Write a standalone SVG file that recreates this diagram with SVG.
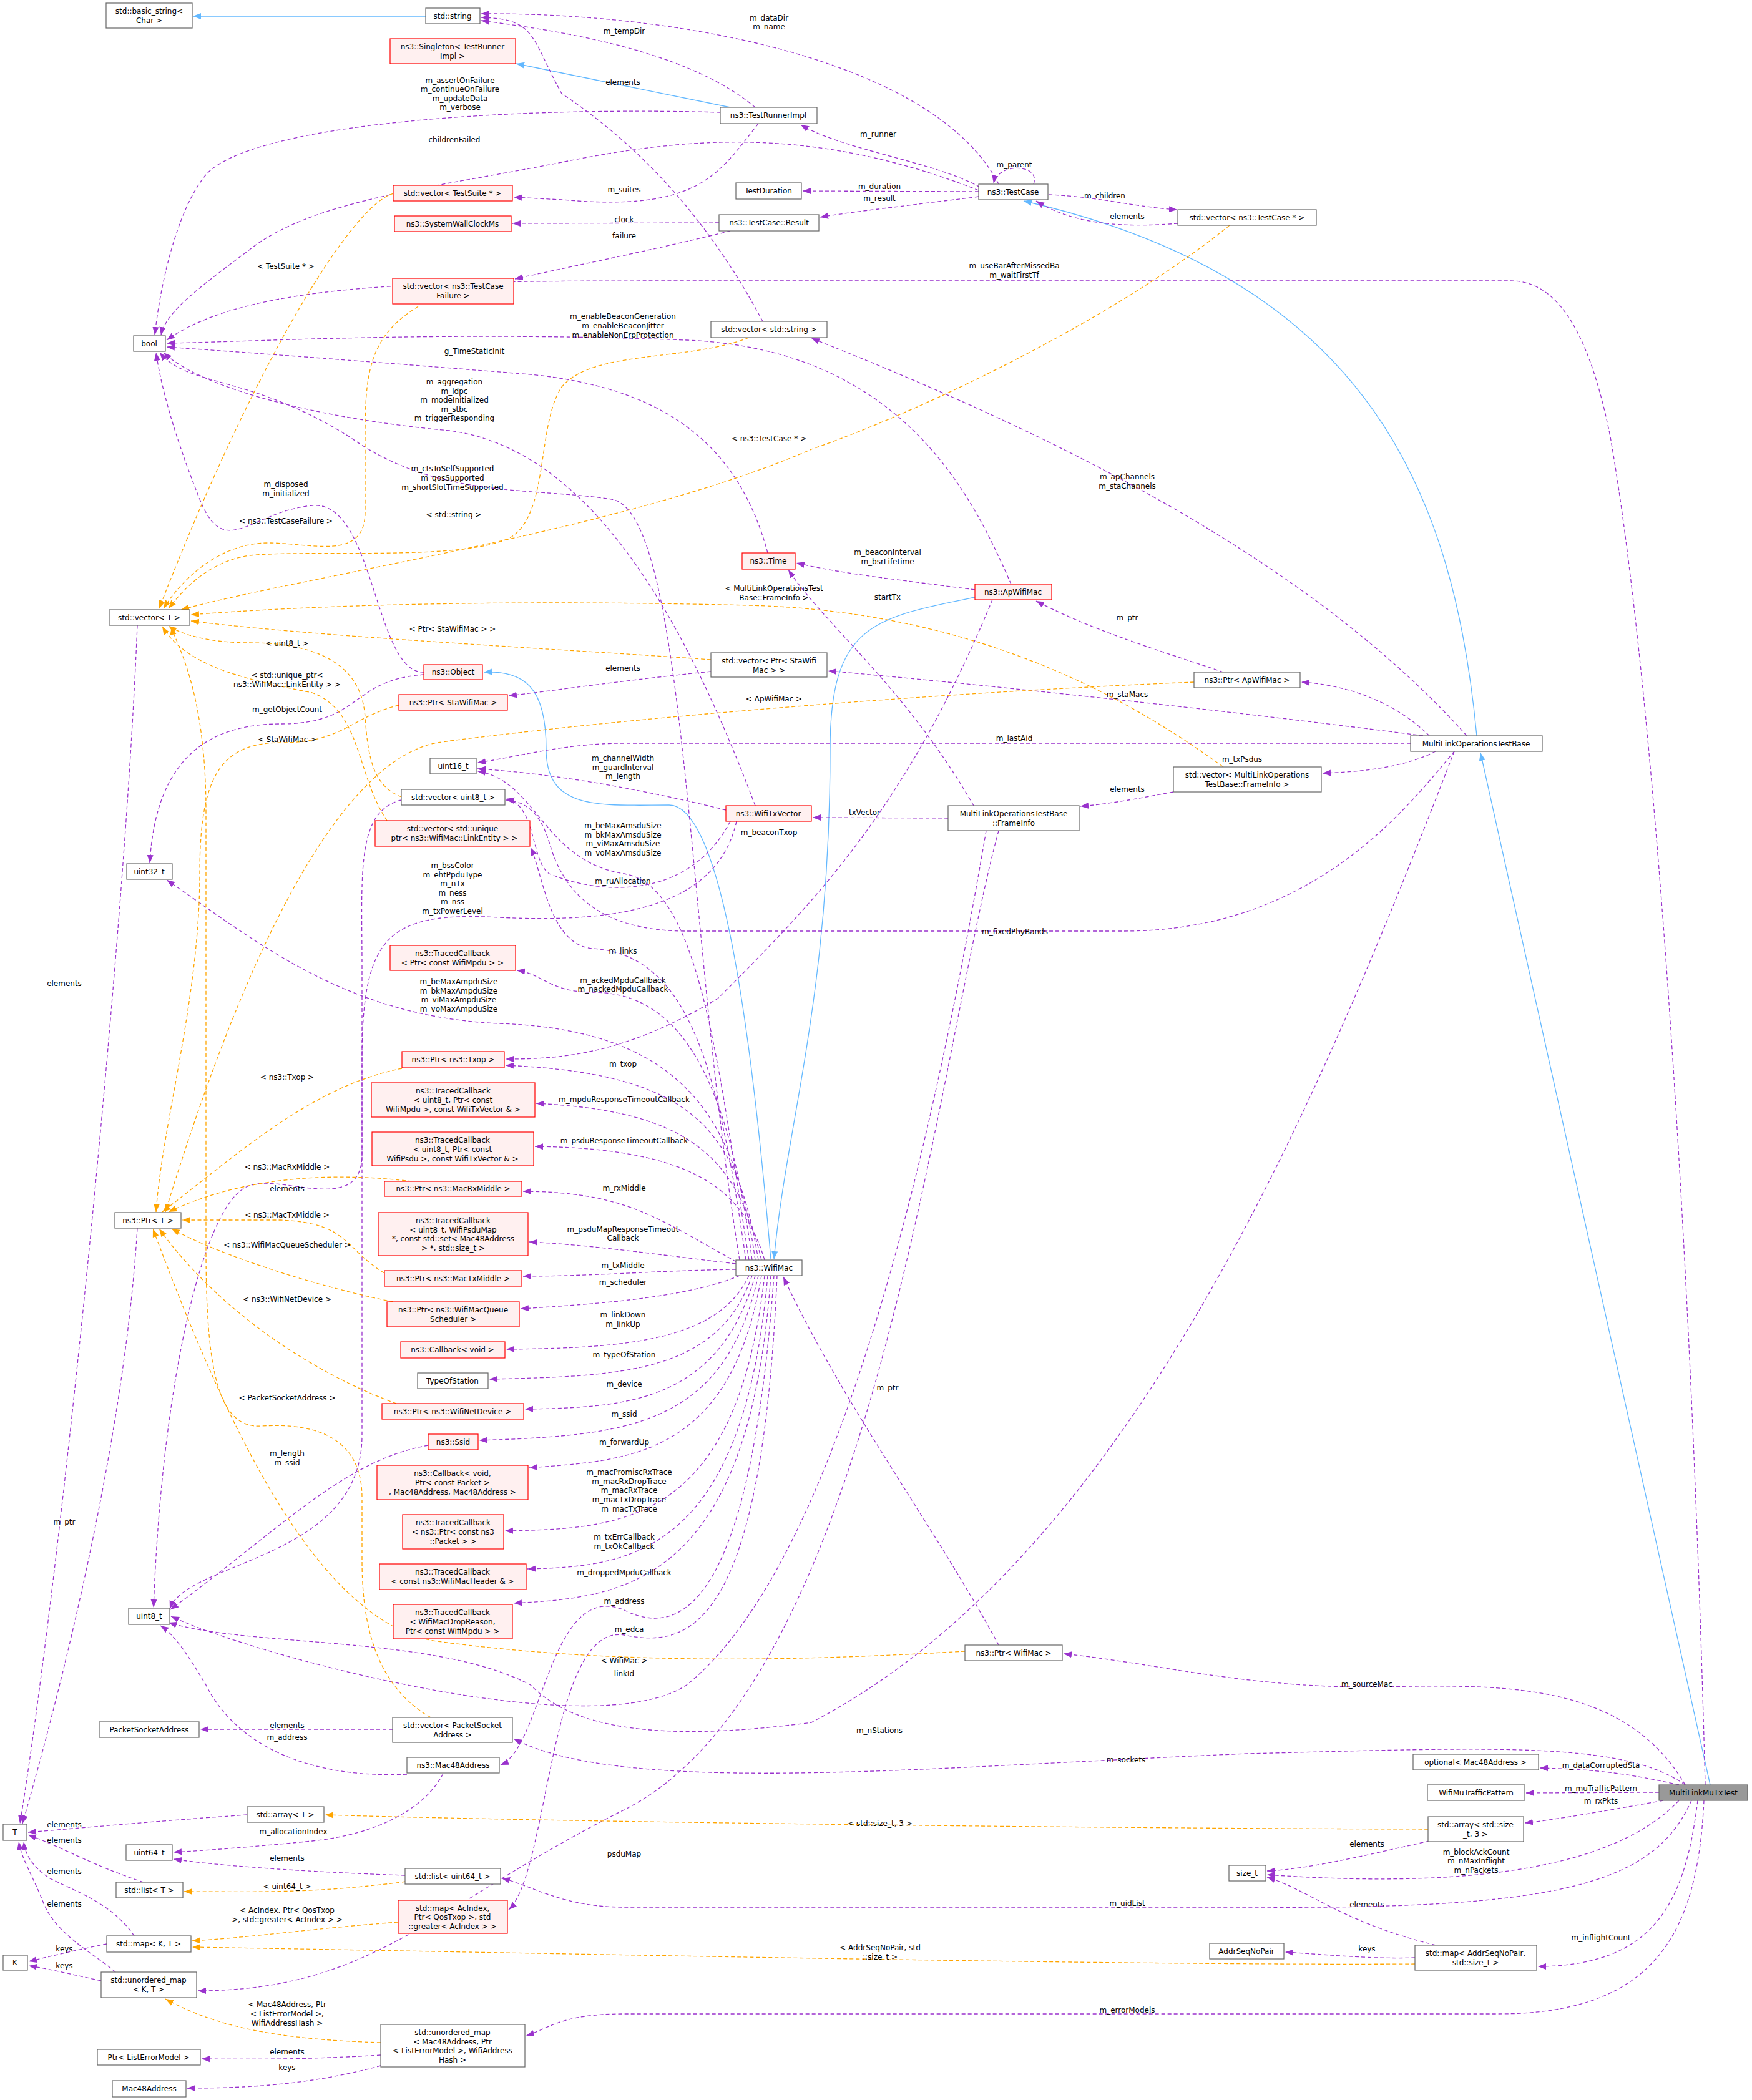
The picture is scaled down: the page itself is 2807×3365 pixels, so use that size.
<svg xmlns="http://www.w3.org/2000/svg" width="2807" height="3365" viewBox="0 0 2807 3365">
<style>
text{font-family:"DejaVu Sans","Liberation Sans",sans-serif;font-size:12px;fill:#000;text-anchor:middle}
.n{fill:#fff;stroke:#666;stroke-width:1.2}
.r{fill:#fff0f0;stroke:#f00;stroke-width:1.2}
.g{fill:#999;stroke:#666;stroke-width:1.2}
.p{fill:none;stroke:#9a32cd;stroke-width:1.3;stroke-dasharray:6,4;marker-end:url(#ap)}
.o{fill:none;stroke:#ffa500;stroke-width:1.3;stroke-dasharray:6,4;marker-end:url(#ao)}
.b{fill:none;stroke:#63b8ff;stroke-width:1.3;marker-end:url(#ab)}
</style>
<defs>
<marker id="ap" markerUnits="userSpaceOnUse" markerWidth="14" markerHeight="12" refX="13" refY="6" orient="auto"><path d="M0,1 L13,6 L0,11 z" fill="#9a32cd"/></marker>
<marker id="ao" markerUnits="userSpaceOnUse" markerWidth="14" markerHeight="12" refX="13" refY="6" orient="auto"><path d="M0,1 L13,6 L0,11 z" fill="#ffa500"/></marker>
<marker id="ab" markerUnits="userSpaceOnUse" markerWidth="14" markerHeight="12" refX="13" refY="6" orient="auto"><path d="M0,1 L13,6 L0,11 z" fill="#63b8ff"/></marker>
</defs>
<rect width="2807" height="3365" fill="#fff"/>
<g id="connectors">
<path class="b" d="M682,26 L309,26"/>
<path class="b" d="M1170,172 L827,102"/>
<path class="b" d="M2366,1179 C2330,800 2200,450 1640,322"/>
<path class="b" d="M2740,2860 L2372,1206"/>
<path class="b" d="M1562,957 C1400,990 1330,1000 1330,1200 C1330,1600 1260,1800 1240,2018"/>
<path class="b" d="M1235,2018 C1200,1600 1150,1290 1072,1290 C960,1290 875,1300 875,1200 C875,1100 840,1075 775,1077"/>
<path class="p" d="M1600,295 C1500,100 1100,20 771,22"/><text x="1232" y="33">m_dataDir</text><text x="1232" y="47">m_name</text>
<path class="p" d="M1210,172 C1100,80 900,50 771,33"/><text x="1000" y="54">m_tempDir</text>
<path class="p" d="M1154,180 C800,170 400,200 330,280 C280,340 255,470 248,537"/><text x="737" y="133">m_assertOnFailure</text><text x="737" y="147">m_continueOnFailure</text><text x="737" y="162">m_updateData</text><text x="737" y="176">m_verbose</text>
<path class="p" d="M1568,305 C1300,200 1100,220 900,260 C700,300 500,320 400,400 C320,460 265,500 258,537"/><text x="728" y="228">childrenFailed</text>
<path class="p" d="M1215,198 C1150,280 1120,340 900,320 L823,316"/><text x="1000" y="308">m_suites</text>
<path class="p" d="M1570,300 C1500,260 1350,240 1283,200"/><text x="1407" y="219">m_runner</text>
<path class="p" d="M1568,307 L1286,306"/><text x="1409" y="303">m_duration</text>
<path class="p" d="M1568,315 C1450,330 1360,340 1314,348"/><text x="1409" y="322">m_result</text>
<path class="p" d="M1656,295 C1668,262 1598,260 1592,294"/><text x="1625" y="268">m_parent</text>
<path class="p" d="M1680,312 C1760,315 1820,332 1886,336"/><text x="1770" y="318">m_children</text>
<path class="p" d="M1887,358 C1800,365 1720,360 1660,322"/><text x="1806" y="351">elements</text>
<path class="p" d="M1152,357 L821,358"/><text x="1000" y="356">clock</text>
<path class="p" d="M1170,370 C1050,400 900,430 825,447"/><text x="1000" y="382">failure</text>
<path class="p" d="M1222,515 C1150,380 1050,250 900,150 C850,60 860,30 771,28"/><text x="998" y="136">elements</text>
<path class="p" d="M2732,2860 C2710,2000 2650,1100 2580,700 C2540,500 2480,450 2420,450 L1100,450 C700,450 400,450 267,545"/><text x="1625" y="430">m_useBarAfterMissedBa</text><text x="1625" y="445">m_waitFirstTf</text>
<path class="p" d="M1620,936 C1560,800 1450,560 1100,545 C700,530 400,548 267,550"/><text x="998" y="511">m_enableBeaconGeneration</text><text x="998" y="526">m_enableBeaconJitter</text><text x="998" y="541">m_enableNonErpProtection</text>
<path class="p" d="M1230,886 C1180,700 1050,620 850,600 C600,580 400,565 267,556"/><text x="760" y="567">g_TimeStaticInit</text>
<path class="p" d="M1210,1291 C1100,1000 950,720 720,690 C500,670 320,620 262,565"/><text x="728" y="616">m_aggregation</text><text x="728" y="631">m_ldpc</text><text x="728" y="645">m_modeInitialized</text><text x="728" y="660">m_stbc</text><text x="728" y="674">m_triggerResponding</text>
<path class="p" d="M1185,2019 C1100,1500 1100,820 980,800 C850,780 700,800 560,700 C400,600 300,620 256,565"/><text x="725" y="755">m_ctsToSelfSupported</text><text x="725" y="770">m_qosSupported</text><text x="725" y="785">m_shortSlotTimeSupported</text>
<path class="p" d="M679,1077 C600,1080 600,800 500,810 C400,820 360,900 320,800 C280,700 258,620 250,565"/><text x="458" y="780">m_disposed</text><text x="458" y="795">m_initialized</text>
<path class="p" d="M2350,1179 C2100,900 1700,700 1300,542"/><text x="1806" y="768">m_apChannels</text><text x="1806" y="783">m_staChannels</text>
<path class="p" d="M1562,945 C1450,930 1350,920 1276,902"/><text x="1422" y="889">m_beaconInterval</text><text x="1422" y="904">m_bsrLifetime</text>
<path class="p" d="M1560,1291 C1450,1100 1320,1000 1263,913"/><text x="1422" y="961">startTx</text>
<path class="p" d="M1960,1077 C1850,1040 1750,1010 1660,963"/><text x="1806" y="994">m_ptr</text>
<path class="p" d="M2290,1179 C2230,1120 2150,1097 2085,1093"/><text x="1990" y="1098">m_apMac</text>
<path class="p" d="M2280,1179 C1900,1130 1500,1090 1327,1075"/><text x="1806" y="1117">m_staMacs</text>
<path class="p" d="M2260,1191 L1000,1191 C900,1191 820,1215 765,1222"/><text x="1625" y="1187">m_lastAid</text>
<path class="p" d="M2300,1204 C2250,1230 2180,1237 2119,1239"/><text x="1990" y="1221">m_txPsdus</text>
<path class="p" d="M1880,1269 C1820,1280 1780,1288 1731,1292"/><text x="1806" y="1269">elements</text>
<path class="p" d="M1519,1311 L1302,1310"/><text x="1385" y="1306">txVector</text>
<path class="p" d="M1600,1331 C1500,1700 1400,2700 1000,2900 C700,3050 600,3190 317,3190"/><text x="1000" y="2975">psduMap</text>
<path class="p" d="M2330,1204 C2250,1300 2100,1492 1800,1492 L1100,1492 C950,1492 900,1420 880,1350 C865,1300 840,1284 811,1282"/><text x="1626" y="1497">m_fixedPhyBands</text>
<path class="p" d="M1163,1298 C1050,1270 900,1240 765,1232"/><text x="998" y="1219">m_channelWidth</text><text x="998" y="1234">m_guardInterval</text><text x="998" y="1248">m_length</text>
<path class="p" d="M1200,2019 C1150,1700 1120,1420 1000,1400 C870,1380 860,1250 765,1236"/><text x="998" y="1327">m_beMaxAmsduSize</text><text x="998" y="1342">m_bkMaxAmsduSize</text><text x="998" y="1356">m_viMaxAmsduSize</text><text x="998" y="1371">m_voMaxAmsduSize</text>
<path class="p" d="M1170,1316 C1100,1450 950,1430 880,1400 C850,1380 860,1290 811,1280"/><text x="998" y="1416">m_ruAllocation</text>
<path class="p" d="M1180,1316 C1150,1450 1000,1480 800,1470 C620,1460 580,1500 580,1700 L580,2300 C580,2500 300,2500 272,2578"/><text x="725" y="1391">m_bssColor</text><text x="725" y="1406">m_ehtPpduType</text><text x="725" y="1420">m_nTx</text><text x="725" y="1435">m_ness</text><text x="725" y="1449">m_nss</text><text x="725" y="1464">m_txPowerLevel</text>
<path class="p" d="M1195,2019 C1150,1700 1100,1530 950,1520 C880,1515 870,1400 850,1358"/><text x="998" y="1528">m_links</text>
<path class="p" d="M1205,2019 C1170,1750 1100,1590 950,1590 C880,1590 870,1560 828,1555"/><text x="998" y="1575">m_ackedMpduCallback</text><text x="998" y="1589">m_nackedMpduCallback</text>
<path class="p" d="M1210,2019 C1180,1800 1100,1650 800,1640 C550,1630 400,1500 267,1410"/><text x="735" y="1577">m_beMaxAmpduSize</text><text x="735" y="1592">m_bkMaxAmpduSize</text><text x="735" y="1606">m_viMaxAmpduSize</text><text x="735" y="1621">m_voMaxAmpduSize</text>
<path class="p" d="M1215,2019 C1180,1800 1100,1720 810,1707"/><text x="998" y="1709">m_txop</text>
<path class="p" d="M1590,961 C1450,1300 1300,1450 1150,1600 C1000,1690 900,1697 810,1697"/><text x="1232" y="1338">m_beaconTxop</text>
<path class="p" d="M1220,2019 C1180,1850 1100,1780 859,1768"/><text x="1000" y="1766">m_mpduResponseTimeoutCallback</text>
<path class="p" d="M1225,2019 C1190,1900 1100,1840 857,1837"/><text x="1000" y="1832">m_psduResponseTimeoutCallback</text>
<path class="p" d="M1180,2022 C1050,1950 1000,1910 838,1909"/><text x="1000" y="1908">m_rxMiddle</text>
<path class="p" d="M1179,2025 C1050,2010 950,1995 848,1990"/><text x="998" y="1974">m_psduMapResponseTimeout</text><text x="998" y="1988">Callback</text>
<path class="p" d="M1179,2034 C1050,2036 950,2045 838,2045"/><text x="998" y="2032">m_txMiddle</text>
<path class="p" d="M1185,2044 C1100,2080 950,2090 834,2097"/><text x="998" y="2059">m_scheduler</text>
<path class="p" d="M1200,2044 C1150,2150 1000,2160 811,2162"/><text x="998" y="2111">m_linkDown</text><text x="998" y="2126">m_linkUp</text>
<path class="p" d="M1205,2044 C1150,2200 1000,2205 784,2210"/><text x="1000" y="2175">m_typeOfStation</text>
<path class="p" d="M1210,2044 C1150,2250 1000,2255 841,2258"/><text x="1000" y="2222">m_device</text>
<path class="p" d="M1215,2044 C1160,2290 1000,2300 768,2308"/><text x="1000" y="2270">m_ssid</text>
<path class="p" d="M1220,2044 C1170,2340 1000,2340 848,2352"/><text x="1000" y="2315">m_forwardUp</text>
<path class="p" d="M1225,2044 C1180,2440 1000,2450 809,2453"/><text x="1008" y="2363">m_macPromiscRxTrace</text><text x="1008" y="2378">m_macRxDropTrace</text><text x="1008" y="2392">m_macRxTrace</text><text x="1008" y="2407">m_macTxDropTrace</text><text x="1008" y="2422">m_macTxTrace</text>
<path class="p" d="M1230,2044 C1190,2500 1000,2510 845,2514"/><text x="1000" y="2467">m_txErrCallback</text><text x="1000" y="2482">m_txOkCallback</text>
<path class="p" d="M1235,2044 C1200,2540 1000,2560 823,2569"/><text x="1000" y="2524">m_droppedMpduCallback</text>
<path class="p" d="M1240,2044 C1200,2600 1080,2620 1000,2580 C880,2530 870,2800 802,2828"/><text x="1000" y="2570">m_address</text>
<path class="p" d="M1245,2044 C1220,2620 1100,2640 1000,2620 C880,2600 880,3000 815,3060"/><text x="1008" y="2615">m_edca</text>
<path class="p" d="M1580,1331 C1500,1800 1350,2500 1100,2700 C950,2800 400,2650 274,2590"/><text x="1000" y="2686">linkId</text>
<path class="p" d="M2330,1204 C2100,1800 1800,2500 1300,2760 C1000,2800 900,2750 850,2700 C700,2620 400,2640 270,2600"/><text x="1409" y="2777">m_nStations</text>
<path class="p" d="M2700,2860 C2600,2790 2400,2800 2000,2810 C1500,2830 1000,2880 823,2786"/><text x="1804" y="2824">m_sockets</text>
<path class="p" d="M2700,2860 C2600,2690 2400,2700 2200,2703 C2000,2705 1850,2665 1704,2650"/><text x="2190" y="2703">m_sourceMac</text>
<path class="p" d="M2690,2860 C2600,2840 2550,2835 2467,2833"/><text x="2565" y="2833">m_dataCorruptedSta</text>
<path class="p" d="M2658,2872 L2445,2873"/><text x="2565" y="2870">m_muTrafficPattern</text>
<path class="p" d="M2665,2885 C2580,2900 2500,2915 2443,2921"/><text x="2565" y="2890">m_rxPkts</text>
<path class="p" d="M2690,2885 C2600,2980 2400,3030 2030,3004"/><text x="2365" y="2972">m_blockAckCount</text><text x="2365" y="2986">m_nMaxInflight</text><text x="2365" y="3001">m_nPackets</text>
<path class="p" d="M2290,2950 C2200,2970 2100,2995 2030,2998"/><text x="2190" y="2959">elements</text>
<path class="p" d="M2300,3117 C2150,3080 2100,3030 2030,3008"/><text x="2190" y="3056">elements</text>
<path class="p" d="M2267,3137 C2200,3140 2100,3130 2059,3128"/><text x="2190" y="3127">keys</text>
<path class="p" d="M2720,2885 C2700,3050 2650,3150 2464,3151"/><text x="2565" y="3109">m_inflightCount</text>
<path class="p" d="M2710,2885 C2650,3020 2500,3060 2000,3056 L1000,3056 C900,3056 850,3020 804,3010"/><text x="1806" y="3054">m_uidList</text>
<path class="p" d="M2730,2885 C2720,3100 2650,3227 2400,3227 L1000,3227 C900,3227 880,3250 843,3262"/><text x="1806" y="3225">m_errorModels</text>
<path class="p" d="M1600,2636 C1500,2450 1350,2250 1255,2046"/><text x="1422" y="2228">m_ptr</text>
<path class="p" d="M220,1002 C200,1500 100,2500 32,2922"/><text x="103" y="1580">elements</text>
<path class="p" d="M220,1968 C200,2300 100,2700 36,2922"/><text x="103" y="2443">m_ptr</text>
<path class="p" d="M396,2908 C250,2918 120,2930 45,2936"/><text x="103" y="2928">elements</text>
<path class="p" d="M230,3016 C150,2990 100,2960 45,2940"/><text x="103" y="2953">elements</text>
<path class="p" d="M215,3102 C180,3050 120,3030 80,3010 C50,2990 40,2970 38,2951"/><text x="103" y="3003">elements</text>
<path class="p" d="M185,3160 C150,3130 90,3100 70,3050 C50,3000 35,2980 30,2951"/><text x="103" y="3055">elements</text>
<path class="p" d="M171,3115 C120,3125 80,3135 46,3143"/><text x="103" y="3127">keys</text>
<path class="p" d="M162,3174 C120,3165 80,3155 46,3150"/><text x="103" y="3154">keys</text>
<path class="p" d="M629,2771 L321,2771"/><text x="460" y="2769">elements</text>
<path class="p" d="M652,2843 C500,2850 380,2800 330,2700 C300,2650 280,2620 257,2605"/><text x="460" y="2788">m_address</text>
<path class="p" d="M686,2316 C550,2340 450,2450 273,2579"/><text x="460" y="2333">m_length</text><text x="460" y="2348">m_ssid</text>
<path class="p" d="M643,1282 C570,1300 580,1400 580,1550 L580,1850 C580,1950 450,1880 400,1900 C330,1920 260,2200 246,2576"/><text x="460" y="1909">elements</text>
<path class="p" d="M679,1081 C560,1090 580,1160 450,1160 C350,1160 250,1200 240,1383"/><text x="460" y="1141">m_getObjectCount</text>
<path class="p" d="M710,2842 C680,2900 600,2940 500,2950 C400,2960 330,2965 278,2968"/><text x="470" y="2939">m_allocationIndex</text>
<path class="p" d="M649,3005 C500,3000 350,2990 278,2979"/><text x="460" y="2982">elements</text>
<path class="p" d="M610,3293 C500,3300 400,3300 323,3299"/><text x="460" y="3292">elements</text>
<path class="p" d="M610,3310 C500,3340 400,3346 300,3346"/><text x="460" y="3317">keys</text>
<path class="p" d="M1139,1076 C1000,1090 900,1105 815,1115"/><text x="998" y="1075">elements</text>
<path class="o" d="M630,310 C560,330 400,600 255,975"/><text x="458" y="431">&lt; TestSuite * &gt;</text>
<path class="o" d="M670,491 C590,540 585,600 585,700 L585,820 C585,900 500,870 430,870 C350,870 290,930 262,975"/><text x="458" y="839">&lt; ns3::TestCaseFailure &gt;</text>
<path class="o" d="M1200,541 C1100,580 950,560 900,620 C860,680 880,820 820,860 C750,900 500,880 400,890 C330,900 290,950 270,975"/><text x="727" y="829">&lt; std::string &gt;</text>
<path class="o" d="M1970,361 C1800,500 1500,650 1300,720 C1000,850 500,920 290,977"/><text x="1232" y="707">&lt; ns3::TestCase * &gt;</text>
<path class="o" d="M1960,1229 C1850,1150 1600,980 1200,970 C800,960 500,970 306,985"/><text x="1240" y="947">&lt; MultiLinkOperationsTest</text><text x="1240" y="962">Base::FrameInfo &gt;</text>
<path class="o" d="M1139,1057 C900,1040 500,1020 306,995"/><text x="725" y="1012">&lt; Ptr&lt; StaWifiMac &gt; &gt;</text>
<path class="o" d="M643,1277 C600,1260 590,1220 585,1150 C580,1060 500,1030 400,1030 C320,1030 280,1010 270,1003"/><text x="460" y="1035">&lt; uint8_t &gt;</text>
<path class="o" d="M620,1315 C570,1240 580,1140 500,1110 C400,1090 300,1070 260,1004"/><text x="460" y="1086">&lt; std::unique_ptr&lt;</text><text x="460" y="1101">ns3::WifiMac::LinkEntity &gt; &gt;</text>
<path class="o" d="M639,1130 C560,1150 550,1190 450,1190 C350,1190 320,1250 320,1400 C320,1600 260,1800 250,1942"/><text x="460" y="1189">&lt; StaWifiMac &gt;</text>
<path class="o" d="M1913,1093 C1500,1110 1000,1150 700,1190 C550,1220 400,1500 265,1942"/><text x="1240" y="1124">&lt; ApWifiMac &gt;</text>
<path class="o" d="M644,1712 C500,1740 380,1850 260,1942"/><text x="460" y="1730">&lt; ns3::Txop &gt;</text>
<path class="o" d="M660,1893 C550,1880 400,1880 270,1942"/><text x="460" y="1874">&lt; ns3::MacRxMiddle &gt;</text>
<path class="o" d="M616,2040 C550,2000 560,1960 450,1955 L292,1955"/><text x="460" y="1951">&lt; ns3::MacTxMiddle &gt;</text>
<path class="o" d="M630,2086 C500,2060 350,2010 275,1969"/><text x="460" y="1999">&lt; ns3::WifiMacQueueScheduler &gt;</text>
<path class="o" d="M635,2249 C500,2200 350,2100 255,1969"/><text x="460" y="2086">&lt; ns3::WifiNetDevice &gt;</text>
<path class="o" d="M1546,2646 C1300,2660 1000,2670 700,2630 C500,2600 350,2250 245,1969"/><text x="1000" y="2665">&lt; WifiMac &gt;</text>
<path class="o" d="M690,2752 C600,2700 580,2600 580,2500 L580,2400 C580,2300 500,2280 420,2285 C350,2290 330,2200 330,2000 L330,1300 C330,1100 280,1030 275,1004"/><text x="460" y="2244">&lt; PacketSocketAddress &gt;</text>
<path class="o" d="M2288,2931 C1800,2930 900,2920 521,2908"/><text x="1410" y="2926">&lt; std::size_t, 3 &gt;</text>
<path class="o" d="M650,3015 C500,3035 400,3031 295,3031"/><text x="460" y="3027">&lt; uint64_t &gt;</text>
<path class="o" d="M638,3080 C500,3090 400,3105 308,3110"/><text x="460" y="3065">&lt; AcIndex, Ptr&lt; QosTxop</text><text x="460" y="3080">&gt;, std::greater&lt; AcIndex &gt; &gt;</text>
<path class="o" d="M2267,3147 C1800,3150 900,3130 308,3120"/><text x="1410" y="3125">&lt; AddrSeqNoPair, std</text><text x="1410" y="3140">::size_t &gt;</text>
<path class="o" d="M610,3273 C450,3268 350,3250 265,3203"/><text x="460" y="3216">&lt; Mac48Address, Ptr</text><text x="460" y="3231">&lt; ListErrorModel &gt;,</text><text x="460" y="3246">WifiAddressHash &gt;</text>
</g>
<g id="basic_string"><rect class="n" x="170" y="5" width="138" height="40"/><text x="239" y="22">std::basic_string&lt;</text><text x="239" y="37">Char &gt;</text></g>
<g id="std_string"><rect class="n" x="682" y="13" width="87" height="25"/><text x="725" y="30">std::string</text></g>
<g id="singleton"><rect class="r" x="625" y="62" width="201" height="40"/><text x="725" y="79">ns3::Singleton&lt; TestRunner</text><text x="725" y="94">Impl &gt;</text></g>
<g id="testrunnerimpl"><rect class="n" x="1154" y="172" width="155" height="26"/><text x="1231" y="189">ns3::TestRunnerImpl</text></g>
<g id="vec_testsuite"><rect class="r" x="630" y="297" width="191" height="25"/><text x="725" y="314">std::vector&lt; TestSuite * &gt;</text></g>
<g id="testduration"><rect class="n" x="1179" y="293" width="105" height="26"/><text x="1231" y="310">TestDuration</text></g>
<g id="syswallclock"><rect class="r" x="632" y="346" width="187" height="25"/><text x="725" y="363">ns3::SystemWallClockMs</text></g>
<g id="testcase_result"><rect class="n" x="1152" y="344" width="160" height="26"/><text x="1232" y="361">ns3::TestCase::Result</text></g>
<g id="vec_testcasefailure"><rect class="r" x="629" y="446" width="194" height="41"/><text x="726" y="463">std::vector&lt; ns3::TestCase</text><text x="726" y="478">Failure &gt;</text></g>
<g id="bool"><rect class="n" x="214" y="538" width="51" height="25"/><text x="239" y="555">bool</text></g>
<g id="vec_string"><rect class="n" x="1139" y="515" width="186" height="26"/><text x="1232" y="532">std::vector&lt; std::string &gt;</text></g>
<g id="time"><rect class="r" x="1189" y="886" width="85" height="26"/><text x="1231" y="903">ns3::Time</text></g>
<g id="vector_t"><rect class="n" x="175" y="977" width="129" height="25"/><text x="239" y="994">std::vector&lt; T &gt;</text></g>
<g id="testcase"><rect class="n" x="1568" y="295" width="111" height="25"/><text x="1623" y="312">ns3::TestCase</text></g>
<g id="vec_testcase"><rect class="n" x="1887" y="336" width="222" height="25"/><text x="1998" y="353">std::vector&lt; ns3::TestCase * &gt;</text></g>
<g id="apwifimac"><rect class="r" x="1562" y="936" width="123" height="25"/><text x="1623" y="953">ns3::ApWifiMac</text></g>
<g id="ptr_apwifimac"><rect class="n" x="1913" y="1077" width="170" height="25"/><text x="1998" y="1094">ns3::Ptr&lt; ApWifiMac &gt;</text></g>
<g id="mlotb"><rect class="n" x="2260" y="1179" width="211" height="25"/><text x="2365" y="1196">MultiLinkOperationsTestBase</text></g>
<g id="vec_frameinfo"><rect class="n" x="1880" y="1229" width="237" height="40"/><text x="1998" y="1246">std::vector&lt; MultiLinkOperations</text><text x="1998" y="1261">TestBase::FrameInfo &gt;</text></g>
<g id="frameinfo"><rect class="n" x="1519" y="1291" width="210" height="40"/><text x="1624" y="1308">MultiLinkOperationsTestBase</text><text x="1624" y="1323">::FrameInfo</text></g>
<g id="object"><rect class="r" x="679" y="1065" width="94" height="24"/><text x="726" y="1081">ns3::Object</text></g>
<g id="vec_ptr_sta"><rect class="n" x="1139" y="1046" width="186" height="39"/><text x="1232" y="1063">std::vector&lt; Ptr&lt; StaWifi</text><text x="1232" y="1078">Mac &gt; &gt;</text></g>
<g id="ptr_sta"><rect class="r" x="639" y="1113" width="174" height="25"/><text x="726" y="1130">ns3::Ptr&lt; StaWifiMac &gt;</text></g>
<g id="uint16"><rect class="n" x="689" y="1215" width="74" height="25"/><text x="726" y="1232">uint16_t</text></g>
<g id="vec_uint8"><rect class="n" x="643" y="1265" width="166" height="25"/><text x="726" y="1282">std::vector&lt; uint8_t &gt;</text></g>
<g id="vec_unique"><rect class="r" x="601" y="1315" width="248" height="41"/><text x="725" y="1332">std::vector&lt; std::unique</text><text x="725" y="1347">_ptr&lt; ns3::WifiMac::LinkEntity &gt; &gt;</text></g>
<g id="wifitxvector"><rect class="r" x="1163" y="1291" width="137" height="25"/><text x="1231" y="1308">ns3::WifiTxVector</text></g>
<g id="uint32"><rect class="n" x="203" y="1384" width="73" height="25"/><text x="239" y="1401">uint32_t</text></g>
<g id="tc_mpdu"><rect class="r" x="625" y="1515" width="201" height="40"/><text x="725" y="1532">ns3::TracedCallback</text><text x="725" y="1547">&lt; Ptr&lt; const WifiMpdu &gt; &gt;</text></g>
<g id="ptr_txop"><rect class="r" x="644" y="1685" width="164" height="26"/><text x="726" y="1702">ns3::Ptr&lt; ns3::Txop &gt;</text></g>
<g id="tc_mpdu_to"><rect class="r" x="595" y="1735" width="262" height="55"/><text x="726" y="1752">ns3::TracedCallback</text><text x="726" y="1767">&lt; uint8_t, Ptr&lt; const</text><text x="726" y="1782">WifiMpdu &gt;, const WifiTxVector &amp; &gt;</text></g>
<g id="tc_psdu_to"><rect class="r" x="596" y="1814" width="259" height="54"/><text x="725" y="1831">ns3::TracedCallback</text><text x="725" y="1846">&lt; uint8_t, Ptr&lt; const</text><text x="725" y="1861">WifiPsdu &gt;, const WifiTxVector &amp; &gt;</text></g>
<g id="ptr_rxmiddle"><rect class="r" x="616" y="1893" width="220" height="24"/><text x="726" y="1909">ns3::Ptr&lt; ns3::MacRxMiddle &gt;</text></g>
<g id="ptr_t"><rect class="n" x="184" y="1943" width="106" height="25"/><text x="237" y="1960">ns3::Ptr&lt; T &gt;</text></g>
<g id="tc_psdumap"><rect class="r" x="606" y="1943" width="240" height="69"/><text x="726" y="1960">ns3::TracedCallback</text><text x="726" y="1975">&lt; uint8_t, WifiPsduMap</text><text x="726" y="1989">*, const std::set&lt; Mac48Address</text><text x="726" y="2004">&gt; *, std::size_t &gt;</text></g>
<g id="ptr_txmiddle"><rect class="r" x="616" y="2036" width="220" height="25"/><text x="726" y="2053">ns3::Ptr&lt; ns3::MacTxMiddle &gt;</text></g>
<g id="wifimac"><rect class="n" x="1179" y="2019" width="106" height="25"/><text x="1232" y="2036">ns3::WifiMac</text></g>
<g id="ptr_sched"><rect class="r" x="620" y="2086" width="212" height="40"/><text x="726" y="2103">ns3::Ptr&lt; ns3::WifiMacQueue</text><text x="726" y="2118">Scheduler &gt;</text></g>
<g id="cb_void"><rect class="r" x="642" y="2150" width="167" height="26"/><text x="725" y="2167">ns3::Callback&lt; void &gt;</text></g>
<g id="typeofstation"><rect class="n" x="669" y="2200" width="113" height="25"/><text x="725" y="2217">TypeOfStation</text></g>
<g id="ptr_netdevice"><rect class="r" x="612" y="2249" width="227" height="25"/><text x="725" y="2266">ns3::Ptr&lt; ns3::WifiNetDevice &gt;</text></g>
<g id="ssid"><rect class="r" x="686" y="2298" width="80" height="25"/><text x="726" y="2315">ns3::Ssid</text></g>
<g id="cb_fwd"><rect class="r" x="604" y="2348" width="242" height="55"/><text x="725" y="2365">ns3::Callback&lt; void,</text><text x="725" y="2380">Ptr&lt; const Packet &gt;</text><text x="725" y="2395">, Mac48Address, Mac48Address &gt;</text></g>
<g id="tc_packet"><rect class="r" x="645" y="2427" width="162" height="55"/><text x="726" y="2444">ns3::TracedCallback</text><text x="726" y="2459">&lt; ns3::Ptr&lt; const ns3</text><text x="726" y="2474">::Packet &gt; &gt;</text></g>
<g id="tc_header"><rect class="r" x="608" y="2506" width="235" height="41"/><text x="725" y="2523">ns3::TracedCallback</text><text x="725" y="2538">&lt; const ns3::WifiMacHeader &amp; &gt;</text></g>
<g id="tc_drop"><rect class="r" x="630" y="2571" width="191" height="55"/><text x="725" y="2588">ns3::TracedCallback</text><text x="725" y="2603">&lt; WifiMacDropReason,</text><text x="725" y="2618">Ptr&lt; const WifiMpdu &gt; &gt;</text></g>
<g id="uint8"><rect class="n" x="206" y="2577" width="66" height="26"/><text x="239" y="2594">uint8_t</text></g>
<g id="packetsocketaddress"><rect class="n" x="159" y="2759" width="160" height="25"/><text x="239" y="2776">PacketSocketAddress</text></g>
<g id="vec_psa"><rect class="n" x="629" y="2752" width="192" height="40"/><text x="725" y="2769">std::vector&lt; PacketSocket</text><text x="725" y="2784">Address &gt;</text></g>
<g id="ns3_mac48"><rect class="n" x="652" y="2816" width="148" height="25"/><text x="726" y="2833">ns3::Mac48Address</text></g>
<g id="array_t"><rect class="n" x="396" y="2895" width="123" height="25"/><text x="457" y="2912">std::array&lt; T &gt;</text></g>
<g id="T"><rect class="n" x="5" y="2923" width="38" height="26"/><text x="24" y="2940">T</text></g>
<g id="uint64"><rect class="n" x="202" y="2956" width="74" height="25"/><text x="239" y="2973">uint64_t</text></g>
<g id="list_uint64"><rect class="n" x="649" y="2994" width="153" height="25"/><text x="725" y="3011">std::list&lt; uint64_t &gt;</text></g>
<g id="list_t"><rect class="n" x="186" y="3016" width="107" height="25"/><text x="239" y="3033">std::list&lt; T &gt;</text></g>
<g id="map_acindex"><rect class="r" x="638" y="3045" width="175" height="53"/><text x="725" y="3062">std::map&lt; AcIndex,</text><text x="725" y="3076">Ptr&lt; QosTxop &gt;, std</text><text x="725" y="3091">::greater&lt; AcIndex &gt; &gt;</text></g>
<g id="map_kt"><rect class="n" x="171" y="3102" width="135" height="26"/><text x="238" y="3119">std::map&lt; K, T &gt;</text></g>
<g id="K"><rect class="n" x="5" y="3133" width="39" height="24"/><text x="24" y="3149">K</text></g>
<g id="umap_kt"><rect class="n" x="162" y="3160" width="153" height="41"/><text x="238" y="3177">std::unordered_map</text><text x="238" y="3192">&lt; K, T &gt;</text></g>
<g id="umap_mac"><rect class="n" x="610" y="3244" width="231" height="68"/><text x="725" y="3261">std::unordered_map</text><text x="725" y="3276">&lt; Mac48Address, Ptr</text><text x="725" y="3290">&lt; ListErrorModel &gt;, WifiAddress</text><text x="725" y="3305">Hash &gt;</text></g>
<g id="ptr_listerrormodel"><rect class="n" x="156" y="3284" width="165" height="25"/><text x="238" y="3301">Ptr&lt; ListErrorModel &gt;</text></g>
<g id="mac48address"><rect class="n" x="180" y="3334" width="118" height="26"/><text x="239" y="3351">Mac48Address</text></g>
<g id="ptr_wifimac"><rect class="n" x="1546" y="2636" width="156" height="25"/><text x="1624" y="2653">ns3::Ptr&lt; WifiMac &gt;</text></g>
<g id="optional_mac48"><rect class="n" x="2264" y="2811" width="201" height="25"/><text x="2364" y="2828">optional&lt; Mac48Address &gt;</text></g>
<g id="wifimutrafficpattern"><rect class="n" x="2287" y="2860" width="156" height="25"/><text x="2365" y="2877">WifiMuTrafficPattern</text></g>
<g id="multilinkmutxtest"><rect class="g" x="2658" y="2860" width="142" height="25"/><text x="2729" y="2877">MultiLinkMuTxTest</text></g>
<g id="array_sizet"><rect class="n" x="2288" y="2911" width="153" height="40"/><text x="2364" y="2928">std::array&lt; std::size</text><text x="2364" y="2943">_t, 3 &gt;</text></g>
<g id="size_t"><rect class="n" x="1969" y="2989" width="59" height="25"/><text x="1998" y="3006">size_t</text></g>
<g id="addrseqnopair"><rect class="n" x="1938" y="3114" width="119" height="25"/><text x="1997" y="3131">AddrSeqNoPair</text></g>
<g id="map_addrseqno"><rect class="n" x="2267" y="3117" width="195" height="40"/><text x="2364" y="3134">std::map&lt; AddrSeqNoPair,</text><text x="2364" y="3149">std::size_t &gt;</text></g>
</svg>
